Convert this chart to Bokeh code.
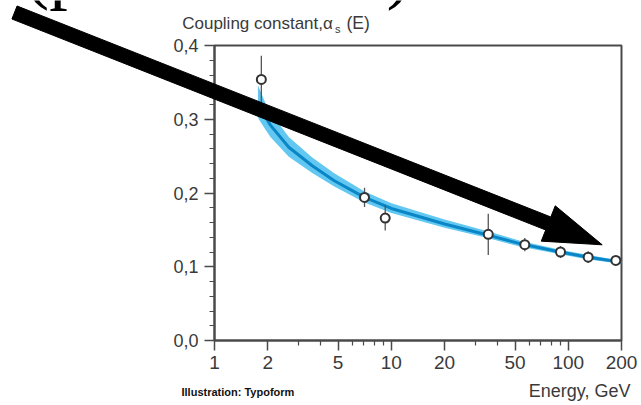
import math
from bokeh.plotting import figure
from bokeh.models import Range1d, FixedTicker, Label
from bokeh.embed import file_html
from bokeh.resources import INLINE

# ---- data ----
energy_pts = [1.84, 7.05, 9.23, 35.3, 56.8, 90.4, 129.6, 185.8]
alpha_pts = [0.354, 0.194, 0.166, 0.144, 0.130, 0.120, 0.113, 0.1085]
alpha_err = [0.032, 0.013, 0.017, 0.028, 0.009, 0.008, 0.008, 0.003]

curve_energy = [1.76, 1.94, 2.07, 2.63, 3.57, 4.73, 7.05, 10, 20, 35, 54, 90, 130, 200]
curve_alpha = [0.322, 0.303, 0.292, 0.262, 0.237, 0.217, 0.194, 0.179, 0.158, 0.143, 0.131, 0.120, 0.113, 0.106]
band_low = [0.302, 0.286, 0.276, 0.249, 0.227, 0.209, 0.187, 0.173, 0.153, 0.139, 0.127, 0.117, 0.110, 0.104]
band_high = [0.346, 0.322, 0.309, 0.276, 0.248, 0.227, 0.202, 0.186, 0.164, 0.148, 0.135, 0.123, 0.116, 0.108]

x_ticks = [1, 2, 5, 10, 20, 50, 100, 200]
x_tick_labels = ["1", "2", "5", "10", "20", "50", "100", "200"]
x_minor = [3, 4, 6, 7, 8, 9, 30, 40, 60, 70, 80, 90]
y_ticks = [0.0, 0.1, 0.2, 0.3, 0.4]
y_tick_labels = ["0,0", "0,1", "0,2", "0,3", "0,4"]
y_minor = [0.02, 0.04, 0.06, 0.08, 0.12, 0.14, 0.16, 0.18, 0.22, 0.24, 0.26, 0.28, 0.32, 0.34, 0.36, 0.38]

title_main = "Coupling constant,\u03b1"
title_sub = "s"
title_tail = "(E)"
x_title = "Energy, GeV"
credit = "Illustration: Typoform"

AXIS = "#4a4a4a"
TXT = "#3a3a3a"
FONT = "Liberation Sans"
W, H = 641, 405

p = figure(width=W, height=H, x_axis_type="log",
           x_range=Range1d(1, 200), y_range=Range1d(0, 0.4),
           output_backend="svg", toolbar_location=None,
           min_border_left=214, min_border_right=20,
           min_border_top=45, min_border_bottom=65)
p.grid.visible = False
p.outline_line_color = AXIS
p.outline_line_width = 2

p.xaxis.ticker = FixedTicker(ticks=x_ticks, minor_ticks=x_minor)
p.xaxis.major_label_overrides = {t: l for t, l in zip(x_ticks, x_tick_labels)}
p.yaxis.ticker = FixedTicker(ticks=y_ticks, minor_ticks=y_minor)
p.yaxis.major_label_overrides = {t: l for t, l in zip(y_ticks, y_tick_labels)}

for ax in (p.xaxis, p.yaxis):
    ax.axis_line_color = AXIS
    ax.axis_line_width = 2
    ax.major_tick_line_color = AXIS
    ax.minor_tick_line_color = AXIS
    ax.major_tick_line_width = 1.5
    ax.minor_tick_line_width = 1.2
    ax.major_tick_in = 0
    ax.minor_tick_in = 0
    ax.major_tick_out = 10
    ax.minor_tick_out = 5
    ax.major_label_text_font = FONT
    ax.major_label_text_color = TXT
p.xaxis.major_label_text_font_size = "19px"
p.yaxis.major_label_text_font_size = "18px"
p.xaxis.major_label_standoff = 5
p.yaxis.major_label_standoff = 6

# band and curve
p.varea(x=curve_energy, y1=band_low, y2=band_high, fill_color="#62c8f1", fill_alpha=1)
p.line(curve_energy, curve_alpha, line_color="#0a86c6", line_width=3)

# error bars and points
lo = [a - e for a, e in zip(alpha_pts, alpha_err)]
hi = [a + e for a, e in zip(alpha_pts, alpha_err)]
p.segment(x0=energy_pts, y0=lo, x1=energy_pts, y1=hi, line_color="#555555", line_width=1.3)
p.scatter(energy_pts, alpha_pts, size=9, fill_color="white", line_color="#333333", line_width=2)

# ---- transparent overlay (pixel coordinates, y downwards) for texts and the arrow ----
ov = figure(width=W, height=H, x_range=Range1d(0, W), y_range=Range1d(H, 0),
            x_axis_location=None, y_axis_location=None,
            output_backend="svg", toolbar_location=None, min_border=0,
            margin=(-H, 0, 0, 0))
ov.grid.visible = False
ov.outline_line_color = None
ov.background_fill_alpha = 0
ov.border_fill_alpha = 0


def lab(x, baseline, text, size, font=FONT, color=TXT, align="left", style="normal"):
    # vertical anchor at the middle of the em box, computed from the wanted baseline
    ov.add_layout(Label(x=x, y=baseline - 0.35 * size, text=text, text_font=font,
                        text_font_size=f"{size}px", text_color=color, text_align=align,
                        text_baseline="middle", text_font_style=style))


lab(181.7, 29, title_main, 17)
lab(334.5, 32, title_sub, 11)
lab(346, 29, title_tail, 17.5)
lab(630, 397, x_title, 18, align="right")
lab(181, 395, credit, 11, style="bold", color="#111111")
lab(24, -5, "(p", 74, font="Liberation Serif", color="#000000")
lab(386, -5, ")", 74, font="Liberation Serif", color="#000000")

# big black arrow
arrow_start = (14.0, 12.0)
arrow_tip = (601.7, 244.3)
shaft_w, head_w, head_len = 14.0, 38.0, 58.0
dx, dy = arrow_tip[0] - arrow_start[0], arrow_tip[1] - arrow_start[1]
L = math.hypot(dx, dy)
ux, uy = dx / L, dy / L
px, py = -uy, ux
bx, by = arrow_tip[0] - ux * head_len, arrow_tip[1] - uy * head_len
pts = [
    (arrow_start[0] + px * shaft_w / 2, arrow_start[1] + py * shaft_w / 2),
    (bx + px * shaft_w / 2, by + py * shaft_w / 2),
    (bx + px * head_w / 2, by + py * head_w / 2),
    arrow_tip,
    (bx - px * head_w / 2, by - py * head_w / 2),
    (bx - px * shaft_w / 2, by - py * shaft_w / 2),
    (arrow_start[0] - px * shaft_w / 2, arrow_start[1] - py * shaft_w / 2),
]
ov.patch([q[0] for q in pts], [q[1] for q in pts], fill_color="black", line_color="black", line_width=1)

open("out.html", "w").write(file_html([p, ov], INLINE))
